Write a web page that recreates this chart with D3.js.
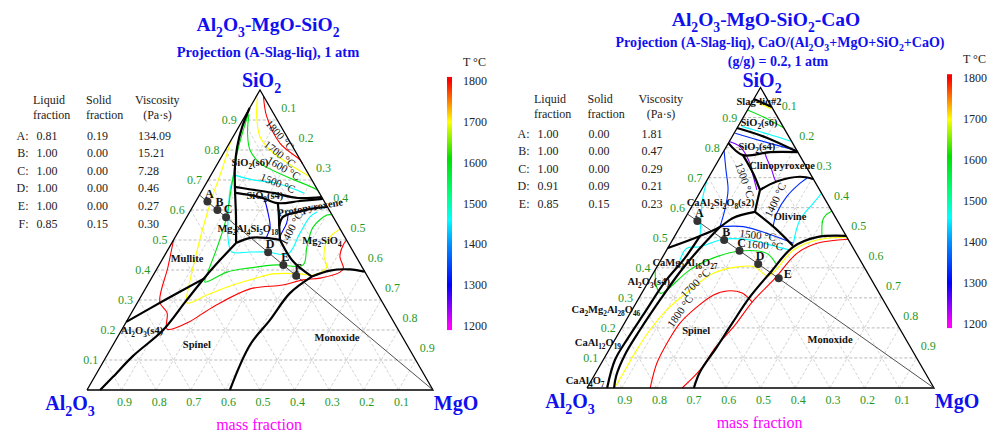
<!DOCTYPE html>
<html>
<head>
<meta charset="UTF-8">
<title>Al2O3-MgO-SiO2 projections</title>
<script src="https://d3js.org/d3.v7.min.js"></script>
<style>
  body { margin: 0; background: #fff; }
  svg { display: block; font-family: "Liberation Serif", "Times New Roman", serif; }
</style>
</head>
<body>
<svg width="993" height="435"></svg>
<script>
// ---- shared data ----
const tempTicks = [1200, 1300, 1400, 1500, 1600, 1700, 1800];
const tempStops = [1200, 1300, 1400, 1460, 1520, 1610, 1700, 1800];
const tempColors = ["#ff00ff", "#0000ff", "#0090ff", "#00ffff", "#00ff80", "#00e000", "#ffff00", "#ff0000"];
const gridTicks = [0.1, 0.2, 0.3, 0.4, 0.5, 0.6, 0.7, 0.8, 0.9];

// compositions are [SiO2, MgO] mass fractions (Al2O3 = rest)

// ---- left diagram: Al2O3-MgO-SiO2 ----
const leftNames = ["A", "B", "C", "D", "E", "F"];
const leftLiquid = [0.81, 1.00, 1.00, 1.00, 1.00, 0.85];
const leftSolid = [0.19, 0.00, 0.00, 0.00, 0.00, 0.15];
const leftVisc = [134.09, 15.21, 7.28, 0.46, 0.27, 0.30];
const leftPoints = [[0.628, 0.034], [0.600, 0.077], [0.576, 0.114], [0.459, 0.294], [0.417, 0.359], [0.381, 0.414]];
const leftTie = [[0.65, 0], [0, 1]];

const leftBoundaries = [
  [[0.94, 0.00], [0.877, 0.01], [0.81, 0.029], [0.743, 0.056], [0.677, 0.089], [0.583, 0.139], [0.49, 0.186]],
  [[0.49, 0.186], [0.433, 0.168], [0.38, 0.154], [0.293, 0.137], [0.2, 0.12], [0.113, 0.076], [0.043, 0.053], [0, 0.038]],
  [[0.227, 0], [0.3, 0.075], [0.373, 0.154]],
  [[0.49, 0.186], [0.507, 0.218], [0.507, 0.264], [0.5, 0.308]],
  [[0.5, 0.308], [0.428, 0.382], [0.378, 0.461]],
  [[0, 0.413], [0.15, 0.396], [0.233, 0.412], [0.323, 0.425], [0.378, 0.461]],
  [[0.378, 0.461], [0.398, 0.503], [0.402, 0.559], [0.394, 0.606]],
  [[0.623, 0.24], [0.583, 0.263], [0.547, 0.282], [0.5, 0.308]],
  [[0.547, 0.282], [0.577, 0.278], [0.593, 0.31], [0.607, 0.361], [0.61, 0.39]],
  [[0.677, 0.089], [0.67, 0.13], [0.657, 0.209], [0.64, 0.29], [0.643, 0.357]],
  [[0.657, 0.102], [0.643, 0.178], [0.623, 0.24], [0.63, 0.30], [0.637, 0.363]]
];

const leftIsoT = [1800, 1700, 1600, 1460, 1460, 1600, 1700, 1800, 1300, 1300];
const leftIsoPts = [
  [[0.98, 0.02], [0.911, 0.064], [0.822, 0.147], [0.767, 0.232], [0.755, 0.245]],
  [[0.975, 0.005], [0.911, 0.035], [0.844, 0.078], [0.8, 0.129], [0.744, 0.224], [0.711, 0.289]],
  [[0.92, 0.008], [0.856, 0.036], [0.8, 0.071], [0.756, 0.122], [0.711, 0.222], [0.667, 0.331], [0.657, 0.343]],
  [[0.717, 0.066], [0.7, 0.131], [0.689, 0.204], [0.656, 0.30]],
  [[0.717, 0.066], [0.667, 0.08], [0.567, 0.124], [0.5, 0.158], [0.46, 0.189], [0.46, 0.241], [0.46, 0.293],
   [0.453, 0.354], [0.523, 0.354], [0.577, 0.356], [0.593, 0.368]],
  [[0.917, 0.007], [0.8, 0.036], [0.683, 0.077], [0.567, 0.118], [0.467, 0.14], [0.393, 0.153], [0.36, 0.161],
   [0.393, 0.208], [0.407, 0.268], [0.417, 0.341], [0.417, 0.416], [0.477, 0.397], [0.543, 0.382], [0.583, 0.402], [0.584, 0.416]],
  [[0.833, 0], [0.733, 0.023], [0.65, 0.039], [0.54, 0.065], [0.433, 0.095], [0.35, 0.12], [0.29, 0.144],
   [0.317, 0.188], [0.35, 0.247], [0.367, 0.288], [0.387, 0.344], [0.387, 0.422], [0.383, 0.462],
   [0.409, 0.488], [0.444, 0.463], [0.489, 0.446], [0.517, 0.449], [0.536, 0.463]],
  [[0.5, 0], [0.41, 0.029], [0.293, 0.064], [0.257, 0.103], [0.203, 0.13], [0.223, 0.177], [0.277, 0.226],
   [0.337, 0.303], [0.35, 0.391], [0.367, 0.441], [0.373, 0.487], [0.393, 0.535], [0.406, 0.538],
   [0.444, 0.509], [0.483, 0.499], [0.5, 0.5]],
  [[0.635, 0.196], [0.589, 0.229], [0.544, 0.257], [0.51, 0.264]],
  [[0.589, 0.287], [0.556, 0.299], [0.522, 0.301], [0.503, 0.303]]
];

const leftPhaseText = ["SiO_2(s6)", "SiO_2(s4)", "Protopyroxene", "Mg_2Al_4Si_5O_18", "Mg_2SiO_4", "Mullite", "Al_2O_3(s4)", "Spinel", "Monoxide"];
const leftPhaseAt = [[0.76, 0.091], [0.65, 0.189], [0.61, 0.34], [0.54, 0.195], [0.5, 0.429], [0.44, 0.069], [0.2, 0.059], [0.153, 0.241], [0.177, 0.634]];
const leftPhaseRot = [0, 0, -10, 0, 0, 0, 0, 0, 0];

const leftTText = ["1800 °C", "1700 °C", "1600 °C", "1500 °C", "1400 °C"];
const leftTAt = [[0.85, 0.133], [0.787, 0.164], [0.74, 0.199], [0.69, 0.207], [0.54, 0.32]];
const leftTRot = [48, 38, 30, 22, -62];

// ---- right diagram: Al2O3-MgO-SiO2-CaO ----
const rightNames = ["A", "B", "C", "D", "E"];
const rightLiquid = [1.00, 1.00, 1.00, 0.91, 0.85];
const rightSolid = [0.00, 0.00, 0.00, 0.09, 0.15];
const rightVisc = [1.81, 0.47, 0.29, 0.21, 0.23];
const rightPoints = [[0.556, 0.04], [0.4925, 0.149], [0.457, 0.211], [0.4126, 0.287], [0.365, 0.37]];
const rightTie = [[0.579, 0], [0, 1]];

const rightBoundaries = [
  [[0.962, 0], [0.935, 0.065]],
  [[0.865, 0], [0.835, 0.095], [0.785, 0.215]],
  [[0.815, 0], [0.775, 0.062], [0.785, 0.135], [0.785, 0.215]],
  [[0.775, 0.062], [0.714, 0.122], [0.659, 0.169]],
  [[0.659, 0.169], [0.687, 0.203], [0.703, 0.262], [0.6955, 0.3045]],
  [[0.659, 0.169], [0.615, 0.182], [0.586, 0.191]],
  [[0.586, 0.191], [0.532, 0.276], [0.473, 0.357]],
  [[0.506, 0.494], [0.502, 0.412], [0.469, 0.359], [0.383, 0.336], [0.303, 0.318], [0.22, 0.311], [0.136, 0.306], [0.053, 0.299], [0, 0.308]],
  [[0.466, 0], [0.506, 0.073], [0.536, 0.115], [0.566, 0.138], [0.586, 0.191]],
  [[0.536, 0.115], [0.466, 0.093], [0.386, 0.075], [0.293, 0.064], [0.193, 0.056], [0.11, 0.054], [0.04, 0.064], [0, 0.078]],
  [[0.506, 0.073], [0.433, 0.066], [0.353, 0.048], [0.253, 0.041], [0.166, 0.035], [0.093, 0.034], [0, 0.058]]
];

const rightIsoT = [1700, 1600, 1460, 1330, 1250, 1250, 1330, 1460, 1330, 1460, 1600, 1330, 1460, 1600, 1700, 1800, 1800];
const rightIsoPts = [
  [[0.952, 0.011], [0.928, 0.069]],
  [[0.925, 0], [0.899, 0.064], [0.865, 0.135]],
  [[0.87, 0.011], [0.845, 0.099], [0.82, 0.18]],
  [[0.848, 0.003], [0.819, 0.103], [0.79, 0.21]],
  [[0.82, 0], [0.803, 0.039], [0.759, 0.086], [0.703, 0.128], [0.659, 0.16]],
  [[0.782, 0.122], [0.764, 0.136], [0.725, 0.17], [0.692, 0.196], [0.687, 0.203]],
  [[0.79, 0], [0.725, 0.038], [0.659, 0.077], [0.592, 0.101], [0.536, 0.115]],
  [[0.692, 0], [0.636, 0.016], [0.576, 0.041], [0.506, 0.073]],
  [[0.539, 0.267], [0.581, 0.256], [0.637, 0.257], [0.681, 0.273], [0.699, 0.285]],
  [[0.4815, 0.354], [0.559, 0.334], [0.615, 0.345], [0.649, 0.352]],
  [[0.5025, 0.426], [0.565, 0.399], [0.589, 0.411]],
  [[0.537, 0.115], [0.537, 0.182], [0.515, 0.26], [0.4815, 0.354]],
  [[0.426, 0.055], [0.465, 0.055], [0.47, 0.09], [0.495, 0.145], [0.4925, 0.224], [0.47, 0.312], [0.459, 0.355]],
  [[0.393, 0], [0.337, 0.032], [0.315, 0.055], [0.326, 0.067], [0.393, 0.1], [0.433, 0.148], [0.456, 0.213], [0.448, 0.294], [0.413, 0.338]],
  [[0.004, 0.079], [0.049, 0.08], [0.126, 0.08], [0.193, 0.085], [0.26, 0.1], [0.326, 0.134], [0.382, 0.173],
   [0.404, 0.239], [0.403, 0.283], [0.373, 0.335], [0.459, 0.365], [0.4925, 0.416], [0.5015, 0.4985]],
  [[0.495, 0.505], [0.4815, 0.422], [0.448, 0.381], [0.365, 0.359], [0.286, 0.333], [0.21, 0.322], [0.136, 0.303], [0.06, 0.296], [0, 0.274]],
  [[0, 0.182], [0.083, 0.16], [0.15, 0.156], [0.216, 0.16], [0.27, 0.182], [0.309, 0.209], [0.323, 0.242], [0.316, 0.289], [0.286, 0.333]]
];

const rightPhaseText = ["Slag-liq#2", "SiO_2(s6)", "SiO_2(s4)", "Clinopyroxene", "CaAl_2Si_2O_8(s2)", "Olivine", "CaMg_2Al_16O_27",
  "Al_2O_3(s4)", "Ca_2Mg_2Al_28O_46", "CaAl_12O_19", "CaAl_4O_7", "Spinel", "Monoxide"];
const rightPhaseAt = [[0.955, 0.018], [0.885, 0.053], [0.805, 0.087], [0.742, 0.191], [0.62, 0.075], [0.572, 0.299], [0.419, 0.073],
  [0.356, 0.0], [0.263, -0.077], [0.153, -0.045], [0.027, -0.019], [0.193, 0.218], [0.163, 0.619]];

const rightTText = ["1300 °C", "1400 °C", "1500 °C", "1600 °C", "1700 °C", "1800 °C"];
const rightTAt = [[0.692, 0.109], [0.626, 0.229], [0.509, 0.238], [0.476, 0.275], [0.349, 0.137], [0.256, 0.14]];
const rightTRot = [70, -65, 6, 4, -45, -55];

// ---- drawing ----
const svg = d3.select("svg");
const tempColor = d3.scaleLinear().domain(tempStops).range(tempColors).clamp(true);
const green = "#1f9a1f";
const blue = "#1010ee";

// text with chemical subscripts: "_digits" becomes a subscript
function richText(sel, str, fs) {
  const parts = str.split(/(_\d+)/).filter(s => s.length);
  let shifted = false;
  parts.forEach(p => {
    if (p[0] === "_") {
      sel.append("tspan").attr("font-size", fs * 0.7).attr("dy", fs * 0.3).text(p.slice(1));
      shifted = true;
    } else {
      const t = sel.append("tspan").text(p);
      if (shifted) { t.attr("dy", -fs * 0.3); shifted = false; }
    }
  });
  return sel;
}

function addText(x, y, str, fs, opts = {}) {
  const t = svg.append("text")
    .attr("x", x).attr("y", y)
    .attr("font-size", fs)
    .attr("text-anchor", opts.anchor || "middle")
    .attr("font-weight", opts.bold ? "bold" : "normal")
    .attr("fill", opts.fill || "#111");
  return richText(t, str, fs);
}

function drawTable(cfg) {
  const fmt = d3.format(".2f");
  addText(cfg.colX[0] - 3.5, cfg.headY, "Liquid", 12, { anchor: "start", fill: "#222" });
  addText(cfg.colX[0] - 3.5, cfg.headY + 15, "fraction", 12, { anchor: "start", fill: "#222" });
  addText(cfg.colX[1] - 1, cfg.headY, "Solid", 12, { anchor: "start", fill: "#222" });
  addText(cfg.colX[1] - 1, cfg.headY + 15, "fraction", 12, { anchor: "start", fill: "#222" });
  addText(cfg.colX[2] - 3, cfg.headY, "Viscosity", 12, { anchor: "start", fill: "#222" });
  addText(cfg.colX[2] + 19.5, cfg.headY + 15, "(Pa·s)", 12, { anchor: "middle", fill: "#222" });
  cfg.names.forEach((n, i) => {
    const yy = cfg.rowY + i * cfg.step;
    addText(cfg.colX[0] - 8, yy, n + ":", 12, { anchor: "end", fill: "#222" });
    addText(cfg.colX[0], yy, fmt(cfg.liquid[i]), 12, { anchor: "start", fill: "#222" });
    addText(cfg.colX[1], yy, fmt(cfg.solid[i]), 12, { anchor: "start", fill: "#222" });
    addText(cfg.colX[2], yy, fmt(cfg.visc[i]), 12, { anchor: "start", fill: "#222" });
  });
}

function drawColorBar(cfg) {
  const y = d3.scaleLinear().domain([1200, 1800]).range([cfg.y1200, cfg.y1800]);
  const lo = 1190, hi = 1810;
  const id = "grad" + cfg.id;
  const grad = svg.append("defs").append("linearGradient")
    .attr("id", id).attr("x1", 0).attr("y1", 1).attr("x2", 0).attr("y2", 0);
  d3.range(lo, hi + 1, 10).forEach(t => {
    grad.append("stop").attr("offset", (t - lo) / (hi - lo)).attr("stop-color", tempColor(t));
  });
  svg.append("rect")
    .attr("x", cfg.x).attr("y", y(hi)).attr("width", 5).attr("height", y(lo) - y(hi))
    .attr("fill", `url(#${id})`);
  tempTicks.forEach(t => {
    addText(cfg.x + 16, y(t) + 4, String(t), 12, { anchor: "start", fill: "#222" });
  });
  addText(cfg.x + 16, cfg.y1800 - 15, "T °C", 12, { anchor: "start", fill: "#222" });
}

function drawDiagram(cfg) {
  const g = svg.append("g");
  const x = d3.scaleLinear().domain([0, 1]).range(cfg.xRange);
  const y = d3.scaleLinear().domain([0, 1]).range(cfg.yRange);
  const proj = d => [x(d[1] + d[0] / 2), y(d[0])];
  const smooth = d3.line().x(d => proj(d)[0]).y(d => proj(d)[1]).curve(d3.curveCatmullRom.alpha(0.5));
  const straight = d3.line().x(d => proj(d)[0]).y(d => proj(d)[1]);

  // grid
  gridTicks.forEach(v => {
    g.append("path").attr("d", straight([[v, 0], [v, 1 - v]]))
      .attr("stroke", "#a8a8a8").attr("stroke-width", 0.8).attr("stroke-dasharray", "3,2").attr("fill", "none");
    g.append("path").attr("d", straight([[0, v], [1 - v, v]]))
      .attr("stroke", "#c8c8c8").attr("stroke-width", 0.8).attr("stroke-dasharray", "3,2").attr("fill", "none");
    g.append("path").attr("d", straight([[0, 1 - v], [1 - v, 0]]))
      .attr("stroke", "#c8c8c8").attr("stroke-width", 0.8).attr("stroke-dasharray", "3,2").attr("fill", "none");
  });

  // isotherms
  cfg.isoPts.forEach((pts, i) => {
    g.append("path").attr("d", smooth(pts))
      .attr("stroke", tempColor(cfg.isoT[i])).attr("stroke-width", 1.1).attr("fill", "none");
  });

  // phase boundaries
  cfg.boundaries.forEach(pts => {
    g.append("path").attr("d", smooth(pts))
      .attr("stroke", "#000").attr("stroke-width", 2.2).attr("fill", "none")
      .attr("stroke-linejoin", "round");
  });

  // triangle
  g.append("path").attr("d", straight([[0, 0], [0, 1], [1, 0], [0, 0]]))
    .attr("stroke", "#000").attr("stroke-width", 1.3).attr("fill", "none");

  // tie line and points
  g.append("path").attr("d", straight(cfg.tie))
    .attr("stroke", "#222").attr("stroke-width", 0.8).attr("fill", "none");
  g.selectAll("circle").data(cfg.points).enter().append("circle")
    .attr("cx", d => proj(d)[0]).attr("cy", d => proj(d)[1]).attr("r", 4)
    .attr("fill", "#333");
  cfg.points.forEach((d, i) => {
    const p = proj(d);
    const off = cfg.labelOffset[i] || [2, -4];
    addText(p[0] + off[0], p[1] + off[1], cfg.names[i], 12, { bold: true, fill: "#111" });
  });

  // tick labels
  gridTicks.forEach(v => {
    const fmt = d3.format(".1f");
    let p = proj([v, 0]);
    addText(p[0] - 6, p[1] + 4, fmt(v), 12, { anchor: "end", fill: green });
    p = proj([1 - v, v]);
    addText(p[0] + 4, p[1] - 8, fmt(v), 12, { anchor: "start", fill: green });
    p = proj([0, 1 - v]);
    addText(p[0] + 3, p[1] + 16, fmt(v), 12, { anchor: "middle", fill: green });
  });

  // phase labels
  cfg.phaseText.forEach((s, i) => {
    const p = proj(cfg.phaseAt[i]);
    const t = svg.append("text")
      .attr("transform", `translate(${p[0]},${p[1]}) rotate(${(cfg.phaseRot && cfg.phaseRot[i]) || 0})`)
      .attr("dy", 4).attr("font-size", 10.5).attr("font-weight", "bold")
      .attr("text-anchor", "middle").attr("fill", "#111");
    richText(t, s, 10.5);
  });

  // isotherm labels
  cfg.tText.forEach((s, i) => {
    const p = proj(cfg.tAt[i]);
    svg.append("text")
      .attr("transform", `translate(${p[0]},${p[1]}) rotate(${cfg.tRot[i]})`)
      .attr("dy", 4).attr("font-size", 11)
      .attr("text-anchor", "middle").attr("fill", "#111").text(s);
  });

  // vertex labels
  const a = proj([0, 0]), m = proj([0, 1]), s = proj([1, 0]);
  addText(a[0] - 17, a[1] + 20, "Al_2O_3", 20, { bold: true, fill: blue });
  addText(m[0] + 23, m[1] + 20, "MgO", 20, { bold: true, fill: blue });
  addText(s[0] + 1.5, s[1] - cfg.topGap, "SiO_2", 20, { bold: true, fill: blue });
  addText((a[0] + m[0]) / 2 - 1, a[1] + 40, "mass fraction", 16, { fill: "#ff00ff" });
}

// ---- left panel ----
addText(268, 31, "Al_2O_3-MgO-SiO_2", 19.5, { bold: true, fill: blue });
addText(268, 57, "Projection (A-Slag-liq), 1 atm", 14.5, { bold: true, fill: blue });
drawTable({ names: leftNames, liquid: leftLiquid, solid: leftSolid, visc: leftVisc,
  colX: [36.5, 87, 138], headY: 104, rowY: 139.5, step: 17.6 });
drawColorBar({ id: "L", x: 447, y1200: 326, y1800: 81 });
drawDiagram({
  xRange: [87, 433], yRange: [390, 90], topGap: 3,
  boundaries: leftBoundaries, isoT: leftIsoT, isoPts: leftIsoPts,
  points: leftPoints, names: leftNames, tie: leftTie, labelOffset: [],
  phaseText: leftPhaseText, phaseAt: leftPhaseAt, phaseRot: leftPhaseRot,
  tText: leftTText, tAt: leftTAt, tRot: leftTRot
});

// ---- right panel ----
addText(766, 26, "Al_2O_3-MgO-SiO_2-CaO", 19.5, { bold: true, fill: blue });
addText(780, 46.5, "Projection (A-Slag-liq), CaO/(Al_2O_3+MgO+SiO_2+CaO)", 14, { bold: true, fill: blue });
addText(778, 65.5, "(g/g) = 0.2, 1 atm", 14, { bold: true, fill: blue });
drawTable({ names: rightNames, liquid: rightLiquid, solid: rightSolid, visc: rightVisc,
  colX: [537.5, 588.5, 641.5], headY: 102.5, rowY: 137.6, step: 17.5 });
drawColorBar({ id: "R", x: 947, y1200: 324, y1800: 78.3 });
drawDiagram({
  xRange: [587, 934], yRange: [388, 87.5], topGap: 1,
  boundaries: rightBoundaries, isoT: rightIsoT, isoPts: rightIsoPts,
  points: rightPoints, names: rightNames, tie: rightTie, labelOffset: [null, null, null, null, [9, 0]],
  phaseText: rightPhaseText, phaseAt: rightPhaseAt, phaseRot: [],
  tText: rightTText, tAt: rightTAt, tRot: rightTRot
});
</script>
</body>
</html>
